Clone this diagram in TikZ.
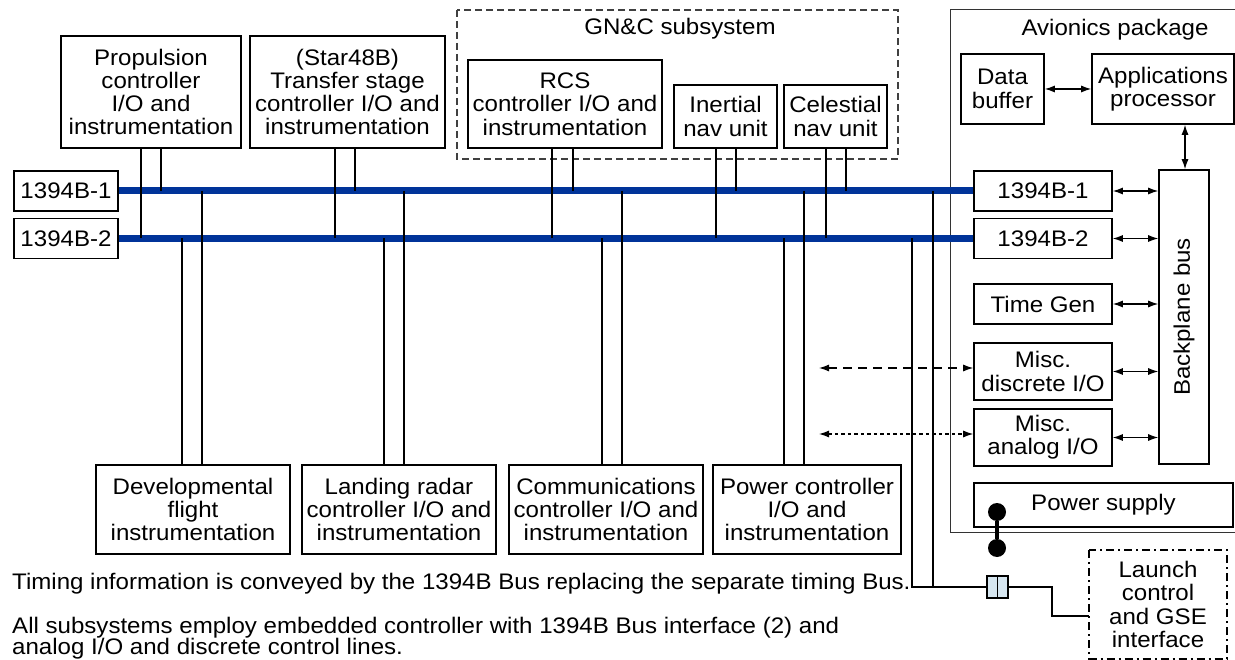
\documentclass[tikz,border=0pt]{standalone}
\usepackage{fontspec}
\setmainfont{Liberation Sans}[FakeStretch=1.07]
\usetikzlibrary{arrows.meta}
\definecolor{busblue}{RGB}{0,51,153}
\definecolor{connblue}{RGB}{214,230,240}
\newcommand{\bxfont}{\fontsize{22.5}{23.3}\selectfont}
\tikzset{
  blk/.style={draw=black, line width=1.6pt, align=center, inner sep=0pt, font=\bxfont},
  lbl/.style={inner sep=0pt, align=center, font=\bxfont},
  bus/.style={draw=busblue, line width=7pt},
  wire/.style={draw=black, line width=2.2pt},
  tipL/.tip={Latex[length=10pt,width=7pt]},
  biarrow/.style={draw=black, line width=1.2pt, tipL-tipL},
  pdot/.style={circle, fill=black, minimum size=18pt, inner sep=0pt},
}
\begin{document}
\begin{tikzpicture}[x=1pt,y=-1pt]
\useasboundingbox (0,0) rectangle (1235,660);
% frames
\draw[black!75, line width=1.2pt, dash pattern=on 7pt off 4pt] (457,10) rectangle (898,159);
\node[lbl] (gnct) at (680,29) {GN\&C subsystem};
\draw[black!80, line width=1pt] (1240,10) -- (950,10) -- (950,532) -- (1240,532);
\node[lbl] (avt) at (1115,30) {Avionics package};
% bus labels
\node[blk, minimum width=104pt, minimum height=40pt] (L1) at (66,191) {1394B-1};
\node[blk, minimum width=104pt, minimum height=40pt] (L2) at (66,238.5) {1394B-2};
% top boxes
\node[blk, minimum width=180pt, minimum height=112pt] (prop) at (151,92) {Propulsion\\controller\\I/O and\\instrumentation};
\node[blk, minimum width=195pt, minimum height=112pt] (trans) at (347.5,92) {(Star48B)\\Transfer stage\\controller I/O and\\instrumentation};
\node[blk, minimum width=194pt, minimum height=88pt] (rcs) at (565,104) {RCS\\controller I/O and\\instrumentation};
\node[blk, minimum width=103pt, minimum height=63pt] (ins) at (725.5,116.5) {Inertial\\nav unit};
\node[blk, minimum width=103pt, minimum height=63pt] (cns) at (835.5,116.5) {Celestial\\nav unit};
% bottom boxes
\node[blk, minimum width=194pt, minimum height=89pt] (dev) at (193,509.5) {Developmental\\flight\\instrumentation};
\node[blk, minimum width=194pt, minimum height=89pt] (land) at (399,509.5) {Landing radar\\controller I/O and\\instrumentation};
\node[blk, minimum width=194pt, minimum height=89pt] (comm) at (606,509.5) {Communications\\controller I/O and\\instrumentation};
\node[blk, minimum width=188pt, minimum height=89pt] (pwr) at (807,509.5) {Power controller\\I/O and\\instrumentation};
% avionics
\node[blk, minimum width=83pt, minimum height=70pt] (db) at (1002.5,89) {Data\\buffer};
\node[blk, minimum width=142pt, minimum height=70pt] (app) at (1163,89) {Applications\\processor};
\node[blk, minimum width=138pt, minimum height=40pt] (R1) at (1043,191) {1394B-1};
\node[blk, minimum width=138pt, minimum height=40pt] (R2) at (1043,238.5) {1394B-2};
\node[blk, minimum width=138pt, minimum height=40pt] (tg) at (1043,304) {Time Gen};
\node[blk, minimum width=138pt, minimum height=57pt] (md) at (1043,371.5) {Misc.\\discrete I/O};
\node[blk, minimum width=138pt, minimum height=57pt] (ma) at (1043,437.5) {Misc.\\analog I/O};
\node[blk, minimum width=259pt, minimum height=44pt] (psu) at (1103.5,505) {Power supply};
\node[blk, minimum width=50pt, minimum height=294pt] (bp) at (1184,317) {};
\node[lbl, rotate=90] (bpt) at (bp.center) {Backplane bus};
\node[blk, draw=none, minimum width=136pt, minimum height=107pt] (launch) at (1158,604.5) {Launch\\control\\and GSE\\interface};
\draw[line width=1.5pt, dash pattern=on 8pt off 4pt on 2pt off 4pt] (launch.north west) rectangle (launch.south east);
% buses
\draw[bus] (L1.east) -- (R1.west);
\draw[bus] (L2.east) -- (R2.west);
% wires from top boxes
\draw[wire] (prop.south -| 141,0) -- (141,0 |- L2);
\draw[wire] (prop.south -| 161,0) -- (161,0 |- L1);
\draw[wire] (trans.south -| 335,0) -- (335,0 |- L2);
\draw[wire] (trans.south -| 355,0) -- (355,0 |- L1);
\draw[wire] (rcs.south -| 552,0) -- (552,0 |- L2);
\draw[wire] (rcs.south -| 573,0) -- (573,0 |- L1);
\draw[wire] (ins.south -| 716,0) -- (716,0 |- L2);
\draw[wire] (ins.south -| 736,0) -- (736,0 |- L1);
\draw[wire] (cns.south -| 826,0) -- (826,0 |- L2);
\draw[wire] (cns.south -| 846,0) -- (846,0 |- L1);
% wires to bottom boxes
\draw[wire] (182,0 |- L2) -- (dev.north -| 182,0);
\draw[wire] (202,0 |- L1) -- (dev.north -| 202,0);
\draw[wire] (384,0 |- L2) -- (land.north -| 384,0);
\draw[wire] (404,0 |- L1) -- (land.north -| 404,0);
\draw[wire] (602,0 |- L2) -- (comm.north -| 602,0);
\draw[wire] (622,0 |- L1) -- (comm.north -| 622,0);
\draw[wire] (784,0 |- L2) -- (pwr.north -| 784,0);
\draw[wire] (804,0 |- L1) -- (pwr.north -| 804,0);
% launch link
\node[draw=black, line width=1.3pt, fill=connblue, minimum width=21pt, minimum height=22pt, inner sep=0pt] (conn) at (997.5,587) {};
\draw[line width=1.3pt] (conn.north) -- (conn.south);
\draw[wire] (912,0 |- L2) -- (912,587) -- (conn.west);
\draw[wire] (933,0 |- L1) -- (933,587);
\draw[wire] (conn.east) -- (1052,587) -- (1052,616) -- (1052,616 -| launch.west);
% power connector
\node[pdot] (pd1) at (997,512) {};
\node[pdot] (pd2) at (997,548) {};
\draw[line width=4pt] (pd1) -- (pd2);
% arrows
\draw[biarrow] (db.east) -- (app.west);
\draw[biarrow] (app.south -| 1185,0) -- (bp.north -| 1185,0);
\draw[biarrow] (R1.east) -- (R1.east -| bp.west);
\draw[biarrow] (R2.east) -- (R2.east -| bp.west);
\draw[biarrow] (tg.east) -- (tg.east -| bp.west);
\draw[biarrow] (md.east) -- (md.east -| bp.west);
\draw[biarrow] (ma.east) -- (ma.east -| bp.west);
\coordinate (dd) at (819,368);
\coordinate (da) at (819,434);
\draw[biarrow, dash pattern=on 9pt off 6pt] (dd) -- (dd -| md.west);
\draw[biarrow, dash pattern=on 3.5pt off 3pt] (da) -- (da -| ma.west);
% notes
\node[lbl, anchor=base west, align=left] (n1) at (12,589) {Timing information is conveyed by the 1394B Bus replacing the separate timing Bus.};
\node[lbl, anchor=base west, align=left, font=\fontsize{22.5}{21}\selectfont] (n2) at (12,654) {All subsystems employ embedded controller with 1394B Bus interface (2) and\\analog I/O and discrete control lines.};
\end{tikzpicture}
\end{document}
